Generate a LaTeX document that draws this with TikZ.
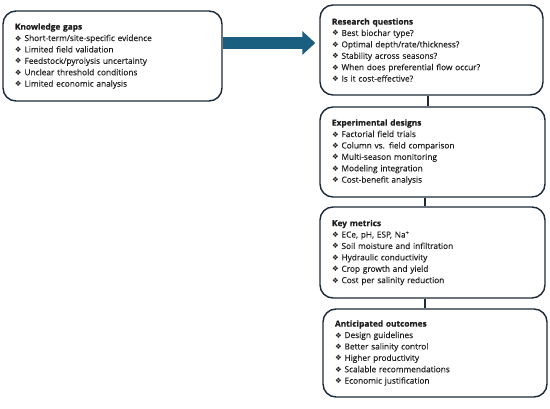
\documentclass[tikz,border=0pt]{standalone}
\usepackage{fontspec}
\setmainfont{Open Sans}[FakeBold=0.25, BoldFeatures={FakeBold=0.6}]
\newfontfamily\symfont{DejaVu Sans}
\usetikzlibrary{arrows.meta}
\definecolor{boxline}{HTML}{1B2A38}
\definecolor{arrowblue}{HTML}{1A5E80}
\definecolor{txt}{HTML}{1E1E1E}
\newcommand{\bitem}{\par\hangindent=10pt\hangafter=1{\symfont\fontsize{7.5}{11}\selectfont ❖}\hspace{2.8pt}}
\tikzset{
  stagebox/.style={draw=boxline, line width=1.4pt, rounded corners=13pt, inner xsep=12pt, inner ysep=0pt,
    align=left, text=txt, font=\fontsize{8.3}{11.4}\selectfont},
  link/.style={draw=boxline, line width=2.4pt},
  bigarrow/.style={draw=arrowblue, line width=12pt, -{Triangle[length=13pt,width=23pt]}}
}
\begin{document}
\begin{tikzpicture}[x=1pt,y=-1pt]
\useasboundingbox (0,0) rectangle (550,409);
\node[stagebox, minimum width=219pt, minimum height=90pt, text width=195pt] (b1) at (112.5,56)
 {\textbf{Knowledge gaps}\bitem Short-term/site-specific evidence\bitem Limited field validation\bitem Feedstock/pyrolysis uncertainty\bitem Unclear threshold conditions\bitem Limited economic analysis};
\node[stagebox, minimum width=223pt, minimum height=90pt, text width=199pt] (b2) at (431.5,50)
 {\textbf{Research questions}\bitem Best biochar type?\bitem Optimal depth/rate/thickness?\bitem Stability across seasons?\bitem When does preferential flow occur?\bitem Is it cost-effective?};
\node[stagebox, minimum width=225pt, minimum height=90pt, text width=201pt] (b3) at (432.5,152)
 {\textbf{Experimental designs}\bitem Factorial field trials\bitem Column vs. field comparison\bitem Multi-season monitoring\bitem Modeling integration\bitem Cost-benefit analysis};
\node[stagebox, minimum width=225pt, minimum height=91pt, text width=201pt] (b4) at (432.5,252.5)
 {\textbf{Key metrics}\bitem ECe, pH, ESP, Na\textsuperscript{+}\bitem Soil moisture and infiltration\bitem Hydraulic conductivity\bitem Crop growth and yield\bitem Cost per salinity reduction};
\node[stagebox, minimum width=224pt, minimum height=88pt, text width=200pt] (b5) at (435,353)
 {\textbf{Anticipated outcomes}\bitem Design guidelines\bitem Better salinity control\bitem Higher productivity\bitem Scalable recommendations\bitem Economic justification};
\draw[bigarrow, shorten >=4pt] ([yshift=13pt]b1.east) -- ([yshift=7pt]b2.west);
\draw[link] ([xshift=-3.5pt]b2.south) -- ([xshift=-4.5pt]b3.north);
\draw[link] ([xshift=-7.5pt]b3.south) -- ([xshift=-7.5pt]b4.north);
\draw[link] ([xshift=-7.5pt]b4.south) -- ([xshift=-10pt]b5.north);
\end{tikzpicture}
\end{document}
